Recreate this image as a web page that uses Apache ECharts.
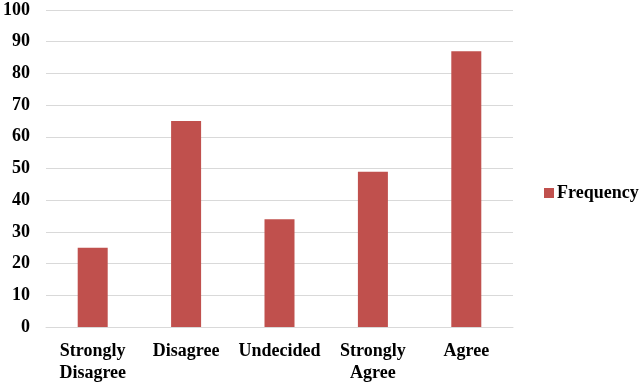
<!DOCTYPE html>
<html><head><meta charset="utf-8">
<script src="https://cdn.jsdelivr.net/npm/echarts@6/dist/echarts.min.js"></script>
<style>html,body{margin:0;padding:0;background:#fff}#c{width:644px;height:386px}</style>
</head><body><div id="c"></div>
<script>
const categories = ['Strongly\nDisagree', 'Disagree', 'Undecided', 'Strongly\nAgree', 'Agree'];
const frequency = [25, 65, 34, 49, 87];
const yTicks = {min: 0, max: 100, interval: 10};
const seriesName = 'Frequency';

const font = 'Liberation Serif';
const chart = echarts.init(document.getElementById('c'), null, {renderer: 'canvas'});
chart.setOption({
  animation: false,
  backgroundColor: '#fff',
  grid: {left: 44, right: 131, top: 10, bottom: 59, containLabel: false},
  legend: {
    data: [seriesName], orient: 'vertical', left: 539, top: 179,
    itemWidth: 10, itemHeight: 10, itemGap: 4, icon: 'rect',
    textStyle: {fontFamily: font, fontWeight: 'bold', fontSize: 18, color: '#000', padding: [0,0,0,-2]}
  },
  xAxis: {
    type: 'category', data: categories,
    axisLine: {show: true, lineStyle: {color: '#d9d9d9', width: 1}},
    axisTick: {show: false},
    axisLabel: {fontFamily: font, fontWeight: 'bold', fontSize: 18, color: '#000', margin: 13, lineHeight: 22, interval: 0}
  },
  yAxis: {
    type: 'value', min: yTicks.min, max: yTicks.max, interval: yTicks.interval,
    axisLine: {show: false}, axisTick: {show: false},
    splitLine: {lineStyle: {color: '#d9d9d9', width: 1}},
    axisLabel: {fontFamily: font, fontWeight: 'bold', fontSize: 18, color: '#000', margin: 16}
  },
  series: [{
    name: seriesName, type: 'bar', data: frequency, barWidth: 30,
    itemStyle: {color: '#C0504D'}
  }]
});
</script></body></html>
